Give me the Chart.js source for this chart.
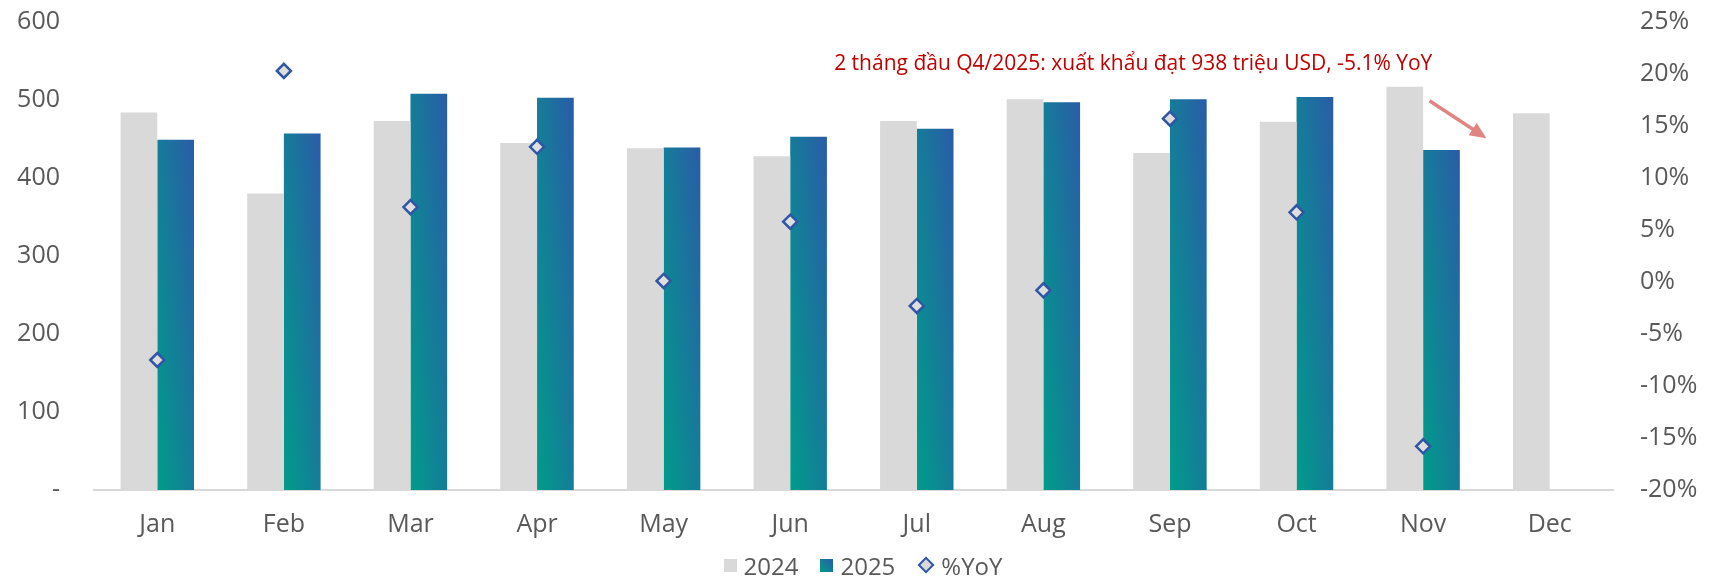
<!DOCTYPE html>
<html>
<head>
<meta charset="utf-8">
<title>Xuất khẩu theo tháng</title>
<script src="https://cdn.jsdelivr.net/npm/chart.js@4.4.1/dist/chart.umd.min.js"></script>
<style>
  html, body { margin: 0; padding: 0; background: #fff; }
  .wrap { position: relative; width: 1726px; height: 576px; }
  #exportChart { position: absolute; left: 0; top: 0; }
  .legend {
    position: absolute; left: 0; right: 0; bottom: 0; height: 22px;
    display: flex; justify-content: center; align-items: center;
    font: 24px 'Open Sans', sans-serif; color: #595959;
  }
  .legend .item { display: flex; align-items: center; margin: 0 11px; }
  .legend .sw { display: inline-block; width: 13px; height: 13px; margin-right: 7px; }
  .legend .sw-2024 { background: #d9d9d9; }
  .legend .sw-2025 { background: linear-gradient(45deg, #009c8a, #2a5ca8); }
  .legend .dia {
    display: inline-block; width: 8px; height: 8px; margin: 0 9px 0 3px;
    border: 2.5px solid #2f55a4; background: #d9d9d9; transform: rotate(45deg);
  }
</style>
</head>
<body>
<div class="wrap">
  <canvas id="exportChart" width="1726" height="576"></canvas>
  <div class="legend">
    <span class="item"><i class="sw sw-2024"></i>2024</span>
    <span class="item"><i class="sw sw-2025"></i>2025</span>
    <span class="item"><i class="dia"></i>%YoY</span>
  </div>
</div>
<script>
  // monthly export value (million USD) and year-on-year change (%)
  const months = ['Jan', 'Feb', 'Mar', 'Apr', 'May', 'Jun', 'Jul', 'Aug', 'Sep', 'Oct', 'Nov', 'Dec'];
  const exports2024 = [484, 380, 473, 445, 438, 428, 473, 501, 432, 472, 517, 483];
  const exports2025 = [449, 457, 508, 503, 439, 453, 463, 497, 501, 504, 436, null];
  const yoyPct = [-7.5, 20.3, 7.2, 13.0, 0.1, 5.8, -2.3, -0.8, 15.7, 6.7, -15.8, null];

  const calloutText = '2 tháng đầu Q4/2025: xuất khẩu đạt 938 triệu USD, -5.1% YoY';

  const CAT_PCT = 0.58;
  const tickColor = '#595959';
  const tickFont = { family: "'Open Sans', sans-serif", size: 25 };

  // diagonal teal -> blue fill, stretched to each bar's own box
  function barGradient(context) {
    const chart = context.chart;
    const { x, y } = chart.scales;
    const v = context.raw;
    const fallback = '#1b7f98';
    if (!x || !y || v == null || context.type !== 'data') return fallback;
    const step = x.getPixelForValue(1) - x.getPixelForValue(0);
    const w = step * CAT_PCT / 2;
    const left = x.getPixelForValue(context.dataIndex);
    const base = y.getPixelForValue(0);
    const h = base - y.getPixelForValue(v);
    if (![step, left, base, h].every(Number.isFinite) || w <= 0 || h <= 0) return fallback;
    const k = 2 / (1 / (w * w) + 1 / (h * h));
    const g = chart.ctx.createLinearGradient(left, base, left + k / w, base - k / h);
    g.addColorStop(0, '#009c8a');
    g.addColorStop(1, '#2a5ca8');
    return g;
  }

  // keep the plot top fixed, whatever the tick padding
  function fitSide(width) {
    return scale => {
      scale.width = width;
      scale.paddingTop = 22;
      scale.paddingBottom = 0;
    };
  }

  // red note and arrow over Nov/Dec
  const calloutPlugin = {
    id: 'callout',
    afterDatasetsDraw(chart, args, opts) {
      const { ctx, scales: { x, y } } = chart;
      const step = x.getPixelForValue(1) - x.getPixelForValue(0);
      const xAt = i => x.getPixelForValue(0) + i * step;

      ctx.save();
      ctx.font = opts.font;
      ctx.fillStyle = opts.color;
      ctx.textAlign = 'center';
      ctx.textBaseline = 'middle';
      ctx.fillText(opts.text, xAt(opts.textAt[0]), y.getPixelForValue(opts.textAt[1]));

      const x0 = xAt(opts.arrowFrom[0]), y0 = y.getPixelForValue(opts.arrowFrom[1]);
      const x1 = xAt(opts.arrowTo[0]), y1 = y.getPixelForValue(opts.arrowTo[1]);
      const ang = Math.atan2(y1 - y0, x1 - x0);
      const head = 18;
      ctx.strokeStyle = opts.arrowColor;
      ctx.fillStyle = opts.arrowColor;
      ctx.lineWidth = 3.5;
      ctx.beginPath();
      ctx.moveTo(x0, y0);
      ctx.lineTo(x1 - head * 0.8 * Math.cos(ang), y1 - head * 0.8 * Math.sin(ang));
      ctx.stroke();
      ctx.beginPath();
      ctx.moveTo(x1, y1);
      ctx.lineTo(x1 - head * Math.cos(ang - 0.42), y1 - head * Math.sin(ang - 0.42));
      ctx.lineTo(x1 - head * Math.cos(ang + 0.42), y1 - head * Math.sin(ang + 0.42));
      ctx.closePath();
      ctx.fill();
      ctx.restore();
    }
  };

  new Chart(document.getElementById('exportChart'), {
    type: 'bar',
    data: {
      labels: months,
      datasets: [
        {
          type: 'line',
          label: '%YoY',
          data: yoyPct,
          yAxisID: 'y1',
          showLine: false,
          pointStyle: 'rectRot',
          pointRadius: 7,
          pointBorderWidth: 2.5,
          pointBorderColor: '#2f55a4',
          pointBackgroundColor: '#dedede',
          order: 0
        },
        {
          label: '2024',
          data: exports2024,
          backgroundColor: '#d9d9d9',
          categoryPercentage: CAT_PCT,
          barPercentage: 1,
          order: 1
        },
        {
          label: '2025',
          data: exports2025,
          backgroundColor: barGradient,
          categoryPercentage: CAT_PCT,
          barPercentage: 1,
          order: 1
        }
      ]
    },
    options: {
      responsive: false,
      animation: false,
      events: [],
      layout: { padding: 0 },
      plugins: {
        legend: { display: false },
        tooltip: { enabled: false },
        callout: {
          text: calloutText,
          font: "21px 'Open Sans', sans-serif",
          color: '#c00000',
          arrowColor: '#e08484',
          textAt: [7.71, 546],
          arrowFrom: [10.05, 499],
          arrowTo: [10.5, 451]
        }
      },
      scales: {
        x: {
          grid: { display: false, drawTicks: false },
          border: { display: true, color: '#d9d9d9', width: 2 },
          ticks: { color: tickColor, font: tickFont, padding: 20 },
          afterFit(scale) { scale.height = 86; }
        },
        y: {
          position: 'left',
          min: 0,
          max: 600,
          grid: { display: false, drawTicks: false },
          border: { display: false },
          ticks: {
            stepSize: 100,
            color: tickColor,
            font: tickFont,
            padding: 34,
            callback: v => (v === 0 ? '-' : String(v))
          },
          afterFit: fitSide(94)
        },
        y1: {
          position: 'right',
          min: -20,
          max: 25,
          grid: { display: false, drawTicks: false },
          border: { display: false },
          ticks: {
            stepSize: 5,
            color: tickColor,
            font: tickFont,
            padding: 27,
            callback: v => v + '%'
          },
          afterFit: fitSide(113)
        }
      }
    },
    plugins: [calloutPlugin]
  });
</script>
</body>
</html>
